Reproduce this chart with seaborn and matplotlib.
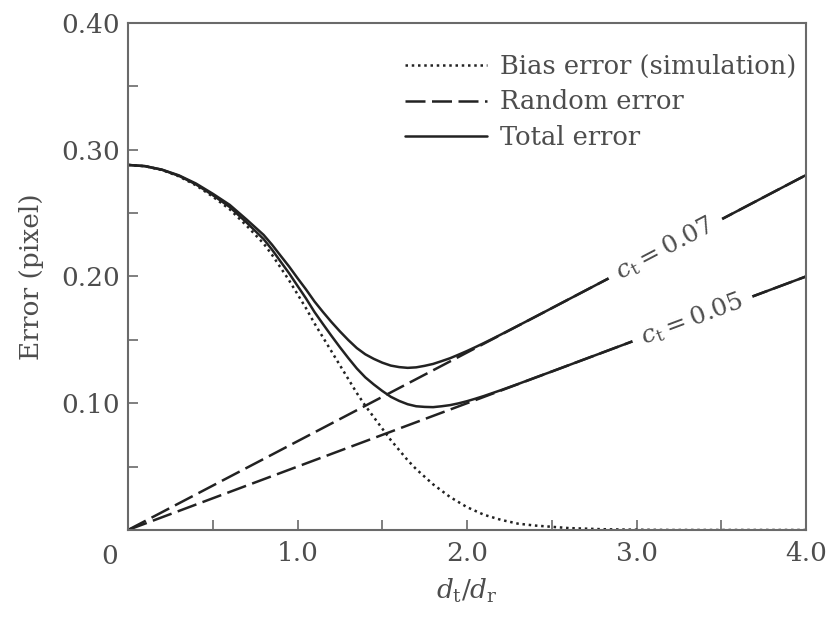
import matplotlib
matplotlib.use("Agg")
import matplotlib.pyplot as plt
import seaborn as sns
import numpy as np
import pandas as pd
from matplotlib.ticker import FixedLocator, FixedFormatter, NullFormatter

# ---------------- data ----------------
x_vals = [0.0, 0.1, 0.2, 0.3, 0.4, 0.5, 0.6, 0.7, 0.8, 0.85, 0.9, 0.95, 1.0, 1.05,
          1.1, 1.15, 1.2, 1.25, 1.3, 1.35, 1.4, 1.45, 1.5, 1.55, 1.6, 1.65, 1.7,
          1.75, 1.8, 1.85, 1.9, 1.95, 2.0, 2.05, 2.1, 2.15, 2.2, 2.3, 2.4, 2.5,
          2.6, 2.8, 3.0, 3.2, 3.6, 4.0]
bias_error = [0.288, 0.287, 0.284, 0.279, 0.272, 0.263, 0.253, 0.240, 0.226, 0.217,
              0.207, 0.197, 0.186, 0.175, 0.163, 0.152, 0.141, 0.130, 0.119, 0.108,
              0.098, 0.089, 0.080, 0.071, 0.063, 0.055, 0.048, 0.042, 0.036, 0.031,
              0.026, 0.022, 0.018, 0.015, 0.012, 0.010, 0.008, 0.005, 0.0035, 0.0025,
              0.0015, 0.0006, 0.0002, 0.0, 0.0, 0.0]
total_error_007 = [0.288, 0.2871, 0.2843, 0.2798, 0.2734, 0.2653, 0.2565, 0.2449,
                   0.2328, 0.2250, 0.2164, 0.2079, 0.1987, 0.1898, 0.1803, 0.1720,
                   0.1641, 0.1567, 0.1498, 0.1435, 0.1386, 0.1350, 0.1320, 0.1297,
                   0.1285, 0.1279, 0.1283, 0.1295, 0.1310, 0.1332, 0.1355, 0.1383,
                   0.1412, 0.1443, 0.1475, 0.1508, 0.1542, 0.1611, 0.1680, 0.1750,
                   0.1820, 0.1960, 0.2100, 0.2240, 0.2520, 0.2800]
total_error_005 = [0.288, 0.2870, 0.2842, 0.2794, 0.2727, 0.2642, 0.2548, 0.2425,
                   0.2295, 0.2211, 0.2118, 0.2026, 0.1926, 0.1827, 0.1720, 0.1625,
                   0.1532, 0.1442, 0.1356, 0.1274, 0.1204, 0.1148, 0.1097, 0.1051,
                   0.1018, 0.0992, 0.0976, 0.0971, 0.0969, 0.0976, 0.0985, 0.0999,
                   0.1016, 0.1036, 0.1057, 0.1080, 0.1103, 0.1151, 0.1201, 0.1250,
                   0.1300, 0.1400, 0.1500, 0.1600, 0.1800, 0.2000]
random_x = [0.0, 4.0]
random_error_007 = [0.0, 0.28]
random_error_005 = [0.0, 0.20]

legend_labels = ["Bias error (simulation)", "Random error", "Total error"]
curve_labels = [r"$c_{\rm t}=0.07$", r"$c_{\rm t}=0.05$"]
label_x = [3.17, 3.33]
label_y = [0.222, 0.1665]

x_ticks = [0, 1, 2, 3, 4]
x_ticklabels = ["", "1.0", "2.0", "3.0", "4.0"]
y_ticks = [0.1, 0.2, 0.3, 0.4]
y_ticklabels = ["0.10", "0.20", "0.30", "0.40"]

# ---------------- style ----------------
sns.set_style("ticks")
plt.rcParams['font.family'] = ['DejaVu Serif']
plt.rcParams['mathtext.fontset'] = 'dejavuserif'

text_color = '#4d4d4d'
spine_color = '#6a6a6a'
line_color = '#222222'

fig = plt.figure(figsize=(8.27, 6.26), dpi=100)
ax = fig.add_axes([0.1548, 0.1534, 0.8198, 0.8099])

lw = 1.8
sns.lineplot(x=x_vals, y=bias_error, ax=ax, color=line_color, lw=lw,
             linestyle=(0, (1.0, 1.5)))
sns.lineplot(x=random_x, y=random_error_007, ax=ax, color=line_color, lw=lw,
             linestyle=(0, (8, 2.6)))
sns.lineplot(x=random_x, y=random_error_005, ax=ax, color=line_color, lw=lw,
             linestyle=(0, (8, 2.6)))
sns.lineplot(x=x_vals, y=total_error_007, ax=ax, color=line_color, lw=lw)
sns.lineplot(x=x_vals, y=total_error_005, ax=ax, color=line_color, lw=lw)

ax.set_xlim(0, 4)
ax.set_ylim(0, 0.4)

ax.xaxis.set_major_locator(FixedLocator(x_ticks))
ax.xaxis.set_major_formatter(FixedFormatter(x_ticklabels))
ax.xaxis.set_minor_locator(FixedLocator([0.5, 1.5, 2.5, 3.5]))
ax.xaxis.set_minor_formatter(NullFormatter())
ax.yaxis.set_major_locator(FixedLocator(y_ticks))
ax.yaxis.set_major_formatter(FixedFormatter(y_ticklabels))
ax.yaxis.set_minor_locator(FixedLocator([0.05, 0.15, 0.25, 0.35]))
ax.yaxis.set_minor_formatter(NullFormatter())

ax.tick_params(which='both', direction='in', length=7, width=1.2,
               color=spine_color, top=False, right=False)
ax.tick_params(axis='x', which='major', pad=8, labelsize=19, labelcolor=text_color)
ax.tick_params(axis='y', which='major', pad=6, labelsize=19, labelcolor=text_color)

for s in ax.spines.values():
    s.set_color(spine_color)
    s.set_linewidth(1.5)

ax.annotate("0", xy=(0, 0), xycoords='data', xytext=(-13, -10),
            textcoords='offset points', ha='center', va='top',
            fontsize=19, color=text_color)

ax.set_xlabel(r"$d_{\rm t}/d_{\rm r}$", fontsize=19, color=text_color, labelpad=8)
ax.set_ylabel("Error (pixel)", fontsize=19, color=text_color, labelpad=12)

handles = [ax.lines[0], ax.lines[1], ax.lines[3]]
leg = ax.legend(handles=handles, labels=legend_labels, loc='upper right',
                bbox_to_anchor=(1.02, 0.985), frameon=False, handlelength=3.2,
                labelspacing=0.42, handletextpad=0.5, fontsize=18.5,
                labelcolor=text_color)

# curve labels sitting in gaps of the total-error lines
fig.canvas.draw()
for txt, xv, yv, ys in zip(curve_labels, label_x, label_y,
                           [random_error_007, random_error_005]):
    p0 = ax.transData.transform((random_x[0], ys[0]))
    p1 = ax.transData.transform((random_x[1], ys[1]))
    ang = np.degrees(np.arctan2(p1[1] - p0[1], p1[0] - p0[0]))
    ax.text(xv, yv, txt, rotation=ang, rotation_mode='anchor', ha='center',
            va='center', fontsize=18, color=text_color, zorder=5,
            bbox=dict(facecolor='white', edgecolor='none', boxstyle='square,pad=0.4'))

fig.savefig("out.png", dpi=100)
